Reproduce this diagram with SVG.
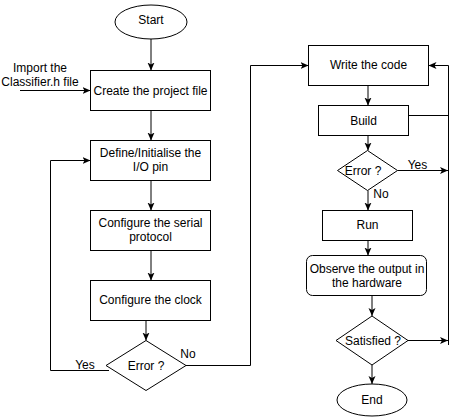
<svg xmlns="http://www.w3.org/2000/svg" width="458" height="417" viewBox="0 0 458 417">
<defs>
<marker id="arr" markerUnits="userSpaceOnUse" markerWidth="10" markerHeight="10" refX="8" refY="3.5" orient="auto">
<path d="M0,0 L8,3.5 L0,7 L2,3.5 Z" fill="#000"/>
</marker>
<style>
.sh{fill:#fff;stroke:#000;stroke-width:1}
.t{font-family:"Liberation Sans",Arial,sans-serif;font-size:12px;fill:#000;text-anchor:middle}
.c{fill:none;stroke:#000;stroke-width:1}
.a{marker-end:url(#arr)}
</style>
</defs>
<rect width="458" height="417" fill="#fff"/>
<g id="connectors">
<path class="c a" d="M151,39 V70.5"/>
<path class="c a" d="M20,90.5 H90.5"/>
<path class="c a" d="M151,110.5 V140.5"/>
<path class="c a" d="M151,180.5 V210.5"/>
<path class="c a" d="M151,250.5 V280.5"/>
<path class="c a" d="M146,320.5 V340.5"/>
<path class="c a" d="M109,370.5 H50.5 V160.5 H90.5"/>
<path class="c a" d="M186,365.5 H250.5 V65.5 H308.5"/>
<path class="c a" d="M368,85.5 V105.5"/>
<path class="c" d="M408.5,115.5 H448.5"/>
<path class="c a" d="M448.5,345 V65.5 H428.5"/>
<path class="c a" d="M368,135.5 V150.5"/>
<path class="c a" d="M397.5,170.5 H448"/>
<path class="c a" d="M368,190.5 V210.5"/>
<path class="c a" d="M368,240.5 V255.5"/>
<path class="c a" d="M372,295.5 V316"/>
<path class="c a" d="M408,340.5 H448"/>
<path class="c a" d="M372,365 V384"/>
</g>
<g id="lbl-import"><text class="t" x="40" y="72">Import the</text><text class="t" x="40" y="86">Classifier.h file</text></g>
<g id="lbl-yes1"><text class="t" x="85" y="369">Yes</text></g>
<g id="lbl-no1"><text class="t" x="188" y="358">No</text></g>
<g id="lbl-yes2"><text class="t" x="417.5" y="168.5">Yes</text></g>
<g id="lbl-no2"><text class="t" x="381" y="198">No</text></g>
<g id="start"><ellipse class="sh" cx="151" cy="22" rx="36" ry="17"/><text class="t" x="151" y="24">Start</text></g>
<g id="create"><rect class="sh" x="90.5" y="70.5" width="120" height="40"/><text class="t" x="150.5" y="94.5">Create the project file</text></g>
<g id="define"><rect class="sh" x="90.5" y="140.5" width="120" height="40"/><text class="t" x="150.5" y="157">Define/Initialise the</text><text class="t" x="150.5" y="171">I/O pin</text></g>
<g id="serial"><rect class="sh" x="90.5" y="210.5" width="120" height="40"/><text class="t" x="150.5" y="227">Configure the serial</text><text class="t" x="150.5" y="241">protocol</text></g>
<g id="clock"><rect class="sh" x="90.5" y="280.5" width="120" height="40"/><text class="t" x="150.5" y="304">Configure the clock</text></g>
<g id="error1"><polygon class="sh" points="146,340.5 186,365.5 146,390.5 106,365.5"/><text class="t" x="146" y="369.5">Error ?</text></g>
<g id="write"><rect class="sh" x="308.5" y="45.5" width="120" height="40"/><text class="t" x="368.5" y="69">Write the code</text></g>
<g id="build"><rect class="sh" x="318.5" y="105.5" width="90" height="30"/><text class="t" x="363.5" y="124.5">Build</text></g>
<g id="error2"><polygon class="sh" points="367.5,150.5 397.5,170.5 367.5,190.5 337.5,170.5"/><text class="t" x="363" y="174.5">Error ?</text></g>
<g id="run"><rect class="sh" x="322.5" y="210.5" width="90" height="30"/><text class="t" x="367.5" y="229">Run</text></g>
<g id="observe"><rect class="sh" x="306.5" y="255.5" width="120" height="40" rx="6" ry="6"/><text class="t" x="367" y="272.5">Observe the output in</text><text class="t" x="367" y="286.5">the hardware</text></g>
<g id="satisfied"><polygon class="sh" points="372,316 408,340.5 372,365 336,340.5"/><text class="t" x="373" y="344.5">Satisfied ?</text></g>
<g id="end"><ellipse class="sh" cx="372" cy="400" rx="35" ry="16"/><text class="t" x="372" y="404">End</text></g>
</svg>
